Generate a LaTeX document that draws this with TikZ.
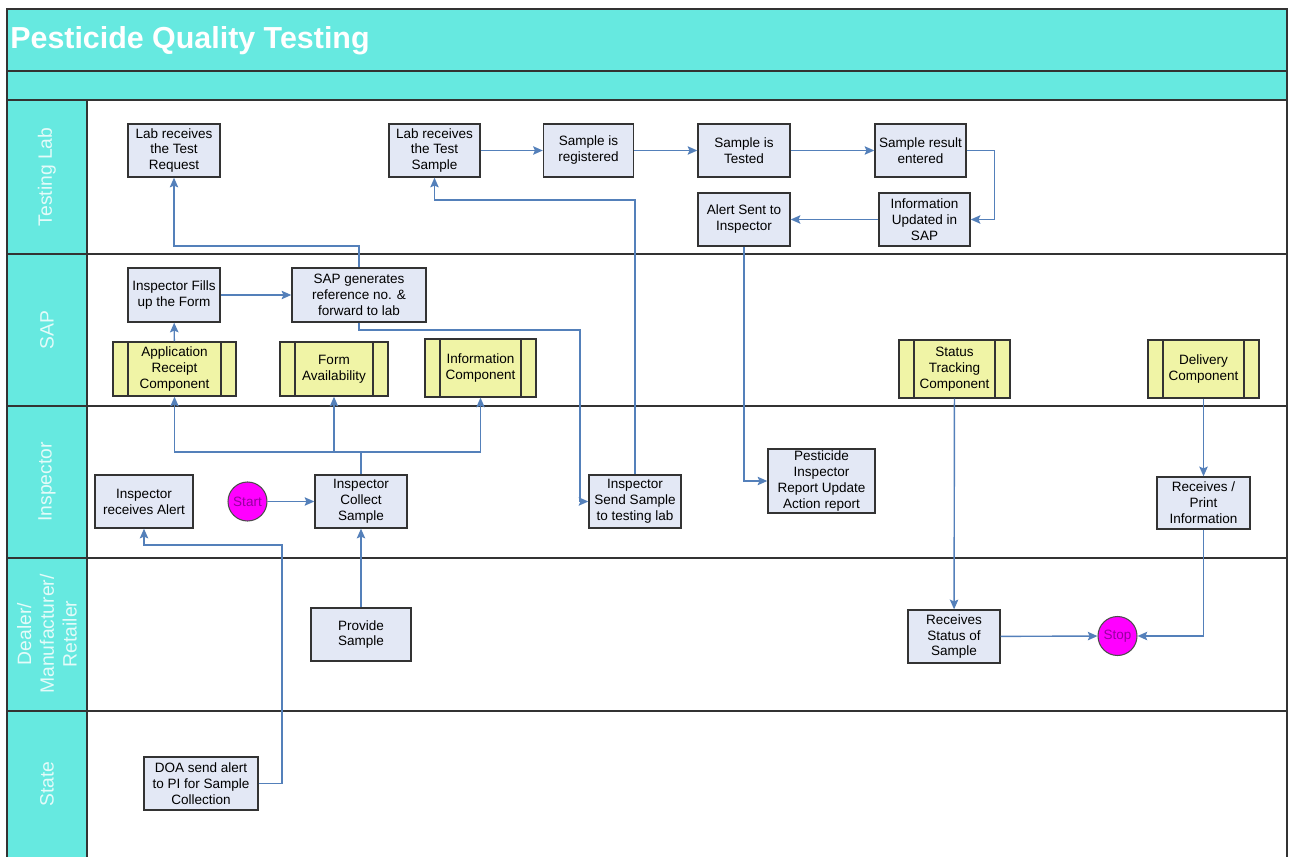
\documentclass[tikz,border=0pt]{standalone}
\usepackage{fontspec}
\setmainfont{Liberation Sans}
\usepackage{tikz}
\usetikzlibrary{arrows.meta}
\definecolor{lanecyan}{RGB}{102,233,224}
\definecolor{boxfill}{RGB}{227,232,245}
\definecolor{compfill}{RGB}{240,244,166}
\definecolor{flowblue}{RGB}{84,128,186}
\definecolor{lanetext}{RGB}{228,251,249}
\definecolor{termfill}{RGB}{255,0,255}
\definecolor{termtext}{RGB}{150,0,160}

\begin{document}
\begin{tikzpicture}[x=0.02cm, y=-0.02cm,
	box/.style={draw=black!80, line width=0.8pt, rectangle, fill=boxfill, align=center, inner sep=1pt, minimum width=1.84cm, minimum height=1.06cm, font=\fontsize{7.7}{9.1}\selectfont},
	comp/.style={box, fill=compfill, minimum width=2.22cm, minimum height=1.16cm, path picture={\draw[black!80, line width=0.8pt] ([xshift=8.5pt]path picture bounding box.north west) -- ([xshift=8.5pt]path picture bounding box.south west) ([xshift=-8.5pt]path picture bounding box.north east) -- ([xshift=-8.5pt]path picture bounding box.south east);}},
	term/.style={draw=black!70, line width=0.6pt, circle, fill=termfill, text=termtext, minimum size=0.78cm, inner sep=0pt, font=\fontsize{7.7}{9}\selectfont},
	flow/.style={->, >={Stealth[length=5.5pt, width=4.8pt, inset=1pt]}, draw=flowblue, line width=0.8pt},
	lane/.style={text=lanetext, rotate=90, align=center, font=\fontsize{11}{13}\selectfont},
	frame/.style={draw=black!80, line width=1.1pt}]
				\useasboundingbox (0, 0) rectangle (1290, 857);
				\fill[lanecyan] (7, 9) rectangle (1287, 100);
				\fill[lanecyan] (7, 100) rectangle (87, 857);
				\draw[frame] (7, 857) -- (7, 9) -- (1287, 9) -- (1287, 857);
				\draw[frame] (7, 71) -- (1287, 71) (7, 100) -- (1287, 100) (87, 100) -- (87, 857);
				\draw[frame] (7, 254) -- (1287, 254) (7, 406) -- (1287, 406) (7, 558) -- (1287, 558) (7, 711) -- (1287, 711);
				\node[anchor=west, inner sep=0pt, text=white, font=\bfseries\fontsize{17.3}{20}\selectfont] (TTL)at(10, 41) {Pesticide Quality Testing};
				\node[lane] (LTL)at(47, 177) {Testing Lab};
				\node[lane] (LSAP)at(47, 330) {SAP};
				\node[lane] (LINS)at(47, 482) {Inspector};
				\node[lane] (LDMR)at(47, 634) {Dealer/\\Manufacturer/\\Retailer};
				\node[lane] (LST)at(47, 784) {State};
				\node[box] (LRQ)at(174, 150.5) {Lab receives\\the Test\\Request};
				\node[box, minimum width=1.82cm] (LRS)at(434.5, 150.5) {Lab receives\\the Test\\Sample};
				\node[box, minimum width=1.80cm] (REG)at(588.5, 150.5) {Sample is\\registered};
				\node[box] (TST)at(744, 150.5) {Sample is\\Tested};
				\node[box, minimum width=1.82cm] (ENT)at(920.5, 150.5) {Sample result\\entered};
				\node[box, minimum width=1.82cm] (UPD)at(924.5, 219.5) {Information\\Updated in\\SAP};
				\node[box] (ALT)at(744, 219.5) {Alert Sent to\\Inspector};
				\node[box, minimum height=1.08cm] (IFF)at(174, 295) {Inspector Fills\\up the Form};
				\node[box, minimum width=2.68cm, minimum height=1.08cm] (SGR)at(359, 295) {SAP generates\\reference no. \&\\forward to lab};
				\node[comp, minimum width=2.46cm, minimum height=1.08cm] (ARC)at(174.5, 369) {Application\\Receipt\\Component};
				\node[comp, minimum width=2.16cm, minimum height=1.08cm] (FAV)at(334, 369) {Form\\Availability};
				\node[comp] (INF)at(480.5, 368) {Information\\Component};
				\node[comp] (STC)at(954.5, 369) {Status\\Tracking\\Component};
				\node[comp] (DLC)at(1203.5, 369) {Delivery\\Component};
				\node[box, minimum width=1.96cm] (IRA)at(144, 501.5) {Inspector\\receives Alert};
				\node[term] (ST)at(247.5, 501.5) {Start};
				\node[box] (ICS)at(361, 501.5) {Inspector\\Collect\\Sample};
				\node[box] (ISS)at(635, 501.5) {Inspector\\Send Sample\\to testing lab};
				\node[box, minimum width=2.14cm, minimum height=1.28cm] (PIR)at(821.5, 481) {Pesticide\\Inspector\\Report Update\\Action report};
				\node[box, minimum width=1.86cm, minimum height=1.04cm] (RPI)at(1203.5, 503) {Receives /\\Print\\Information};
				\node[box, minimum width=2.0cm] (PS)at(361, 634.5) {Provide\\Sample};
				\node[box] (RSS)at(954, 636.5) {Receives\\Status of\\Sample};
				\node[term] (SP)at(1117.5, 636) {Stop};
				\node[box, minimum width=2.28cm] (DOA)at(201, 783.5) {DOA send alert\\to PI for Sample\\Collection};
				\coordinate (SPLIT)at(361, 452);
				\coordinate (ALB)at(282, 545);
				\draw[flow] (SGR.north) |- (LRQ.south |- 0, 246) -- (LRQ.south);
				\draw[flow] (ISS.north) |- (LRS.south |- 0, 200) -- (LRS.south);
				\draw[flow] (LRS) -- (REG);
				\draw[flow] (REG) -- (TST);
				\draw[flow] (TST) -- (ENT);
				\draw[flow] (ENT.east) -- ++(28, 0) |- (UPD.east);
				\draw[flow] (UPD) -- (ALT);
				\draw[flow] (ALT.south) |- (PIR.west);
				\draw[flow] (IFF) -- (SGR);
				\draw[flow] (ARC) -- (IFF);
				\draw[flowblue, line width=0.8pt] (ICS.north) -- (SPLIT);
				\draw[flow] (SPLIT) -| (ARC.south);
				\draw[flow] (SPLIT) -| (FAV.south);
				\draw[flow] (SPLIT) -| (INF.south);
				\draw[flow] (ST) -- (ICS);
				\draw[flow] (DOA.east) -| (ALB) -| (IRA.south);
				\draw[flow] (PS) -- (ICS);
				\draw[flow] (SGR.south) |- (580, 330) |- (ISS.west);
				\draw[flow] (STC) -- (RSS);
				\draw[flow] (DLC) -- (RPI);
				\draw[flow] (RSS) -- (SP);
				\draw[flow] (RPI.south) |- (SP.east);
			\end{tikzpicture}
\end{document}
